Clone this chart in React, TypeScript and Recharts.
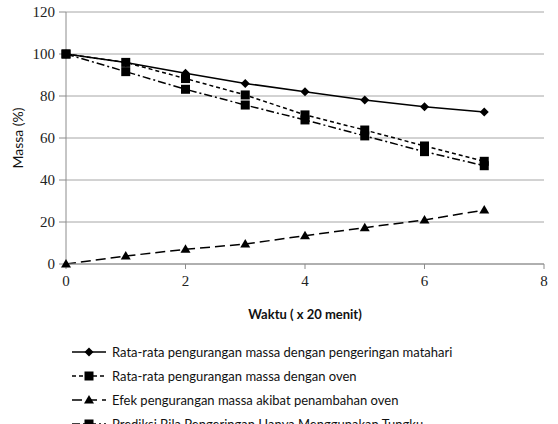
import React from "react";
import { LineChart, Line, XAxis, YAxis, CartesianGrid, Legend } from "recharts";

// Drying time in 20-minute steps
const waktu = [0, 1, 2, 3, 4, 5, 6, 7];

// Mass remaining (%) per series
const massaMatahari = [100, 96, 90.8, 86, 82, 78.1, 74.9, 72.4];
const massaOven = [100, 96, 88.3, 80.5, 71, 63.8, 56.2, 48.9];
const efekOven = [0, 3.8, 7, 9.5, 13.5, 17.3, 21, 25.7];
const prediksiTungku = [100, 91.6, 83.2, 75.7, 68.6, 61, 53.5, 46.8];

const xTicks = [0, 2, 4, 6, 8];
const yTicks = [0, 20, 40, 60, 80, 100, 120];

const seriesNames = [
  "Rata-rata pengurangan massa dengan pengeringan matahari",
  "Rata-rata pengurangan massa dengan oven",
  "Efek pengurangan massa akibat penambahan oven",
  "Prediksi Bila Pengeringan Hanya Menggunakan Tungku",
];

const data = waktu.map((w, i) => ({
  waktu: w,
  matahari: massaMatahari[i],
  oven: massaOven[i],
  efek: efekOven[i],
  prediksi: prediksiTungku[i],
}));

type MarkerKind = "diamond" | "square" | "triangle";

function marker(kind: MarkerKind, cx: number, cy: number, key?: string | number) {
  if (kind === "diamond") {
    const r = 4.5;
    return (
      <path key={key} d={`M${cx},${cy - r}L${cx + r},${cy}L${cx},${cy + r}L${cx - r},${cy}Z`} fill="#000" />
    );
  }
  if (kind === "square") {
    const s = 4.5;
    return <rect key={key} x={cx - s} y={cy - s} width={s * 2} height={s * 2} fill="#000" />;
  }
  const r = 5;
  return (
    <path key={key} d={`M${cx},${cy - r}L${cx + r},${cy + r * 0.7}L${cx - r},${cy + r * 0.7}Z`} fill="#000" />
  );
}

const makeDot = (kind: MarkerKind) => (props: any) => {
  const { cx, cy, index } = props;
  if (cx == null || cy == null) return <g key={index} />;
  return marker(kind, cx, cy, index);
};

const styles: { key: string; kind: MarkerKind; dash?: string }[] = [
  { key: "matahari", kind: "diamond" },
  { key: "oven", kind: "square", dash: "4 3" },
  { key: "efek", kind: "triangle", dash: "10 5" },
  { key: "prediksi", kind: "square", dash: "8 3 2 3" },
];

const LegendBox = () => (
  <div style={{ fontFamily: "Lato, 'Liberation Sans', sans-serif", fontSize: 13, color: "#111" }}>
    {styles.map((s, i) => (
      <div key={s.key} style={{ display: "flex", alignItems: "center", height: 24 }}>
        <svg width={40} height={14} style={{ marginLeft: 70 }}>
          <line x1={2} y1={7} x2={36} y2={7} stroke="#000" strokeWidth={1.5} strokeDasharray={s.dash} />
          {marker(s.kind, 19, 7)}
        </svg>
        <span style={{ marginLeft: 2 }}>{seriesNames[i]}</span>
      </div>
    ))}
  </div>
);

export default function App() {
  return (
    <div style={{ position: "absolute", left: 0, top: 0, width: 558, height: 424, overflow: "hidden", background: "#fff" }}>
      <LineChart width={558} height={450} data={data} margin={{ top: 12, right: 14, bottom: 30, left: 20 }}>
        <CartesianGrid vertical={false} stroke="#a6a6a6" strokeWidth={1} />
        <XAxis
          dataKey="waktu"
          type="number"
          domain={[0, 8]}
          ticks={xTicks}
          stroke="#8c8c8c"
          tickSize={5}
          tick={{ fill: "#222", fontFamily: "'Liberation Serif', serif", fontSize: 15 }}
          tickMargin={6}
          label={{
            value: "Waktu ( x 20 menit)",
            position: "insideBottom",
            offset: 5,
            style: { fontFamily: "Lato, 'Liberation Sans', sans-serif", fontWeight: 700, fontSize: 13, fill: "#111" },
          }}
          height={60}
        />
        <YAxis
          domain={[0, 120]}
          ticks={yTicks}
          stroke="#8c8c8c"
          tickSize={7}
          width={46}
          tick={{ fill: "#222", fontFamily: "'Liberation Serif', serif", fontSize: 15 }}
          tickMargin={4}
          label={{
            value: "Massa (%)",
            angle: -90,
            position: "insideLeft",
            offset: -2,
            style: { textAnchor: "middle", fontFamily: "Lato, 'Liberation Sans', sans-serif", fontSize: 14, fill: "#111" },
          }}
        />
        {styles.map((s) => (
          <Line
            key={s.key}
            dataKey={s.key}
            type="linear"
            stroke="#000"
            strokeWidth={1.5}
            strokeDasharray={s.dash}
            dot={makeDot(s.kind)}
            activeDot={false}
            isAnimationActive={false}
          />
        ))}
        <Legend
          verticalAlign="bottom"
          align="left"
          wrapperStyle={{ left: 0, top: 340, width: 558 }}
          content={() => <LegendBox />}
        />
      </LineChart>
    </div>
  );
}
